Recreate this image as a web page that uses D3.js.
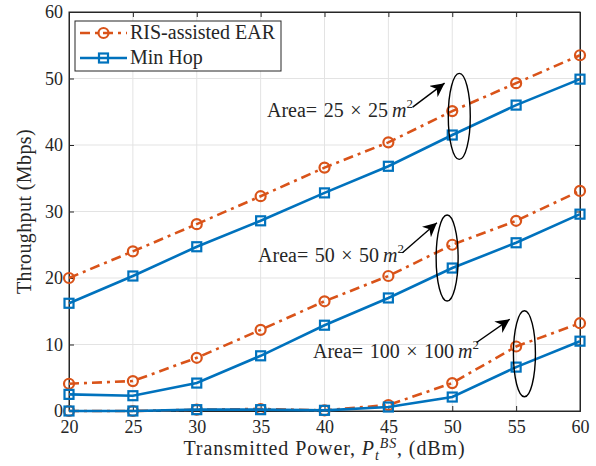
<!DOCTYPE html>
<html lang="en">
<head>
<meta charset="UTF-8">
<title>Throughput vs transmitted power</title>
<script src="https://cdn.jsdelivr.net/npm/d3@7"></script>
<style>
  body { margin: 0; background: #fff; }
  text { font-family: "Liberation Serif", "Times New Roman", serif; fill: #262626; }
</style>
</head>
<body>
<script>
// data
const power = [20, 25, 30, 35, 40, 45, 50, 55, 60];
const earArea25 = [20.0, 24.0, 28.1, 32.3, 36.6, 40.4, 45.1, 49.3, 53.5];
const minHopArea25 = [16.2, 20.3, 24.7, 28.6, 32.8, 36.8, 41.5, 46.0, 49.9];
const earArea50 = [4.1, 4.5, 8.0, 12.2, 16.5, 20.3, 25.0, 28.6, 33.1];
const minHopArea50 = [2.5, 2.3, 4.2, 8.3, 12.9, 17.0, 21.5, 25.3, 29.6];
const earArea100 = [0.0, 0.0, 0.2, 0.3, 0.1, 0.9, 4.2, 9.7, 13.2];
const minHopArea100 = [0.0, 0.0, 0.2, 0.2, 0.1, 0.6, 2.1, 6.6, 10.5];
const xTicks = [20, 25, 30, 35, 40, 45, 50, 55, 60];
const yTicks = [0, 10, 20, 30, 40, 50, 60];
const legendLabels = ['RIS-assisted EAR', 'Min Hop'];
// annotation: text anchor, arrow start/end, ellipse centre (data units)
const areaSizes = ['25', '50', '100'];
const textPos = [[35.5, 44.2], [34.8, 22.4], [39.1, 8.0]];
const arrowFrom = [[46.9, 45.7], [46.1, 23.8], [51.9, 10.3]];
const arrowTo = [[49.4, 49.3], [48.8, 28.3], [54.5, 13.8]];
const ellipseAt = [[50.55, 44.3], [49.6, 23.0], [55.65, 8.6]];

const width = 596, height = 466;
const margin = {top: 12, right: 16, bottom: 55, left: 69};
const orange = '#D95319', blue = '#0072BD';

const svg = d3.select('body').append('svg')
  .attr('width', width).attr('height', height);

const x = d3.scaleLinear().domain([20, 60]).range([margin.left, width - margin.right]);
const y = d3.scaleLinear().domain([0, 60]).range([height - margin.bottom, margin.top]);

// grid
svg.append('g').selectAll('line').data(xTicks.slice(1, -1)).join('line')
  .attr('x1', d => x(d)).attr('x2', d => x(d))
  .attr('y1', y(0)).attr('y2', y(60))
  .attr('stroke', '#e3e3e3').attr('stroke-width', 1);
svg.append('g').selectAll('line').data(yTicks.slice(1, -1)).join('line')
  .attr('x1', x(20)).attr('x2', x(60))
  .attr('y1', d => y(d)).attr('y2', d => y(d))
  .attr('stroke', '#e3e3e3').attr('stroke-width', 1);

// box
svg.append('rect')
  .attr('x', x(20)).attr('y', y(60))
  .attr('width', x(60) - x(20)).attr('height', y(0) - y(60))
  .attr('fill', 'none').attr('stroke', '#262626').attr('stroke-width', 1);

// axes with inward ticks
const xAxis = svg.append('g')
  .attr('transform', `translate(0,${y(0)})`)
  .call(d3.axisBottom(x).tickValues(xTicks).tickSize(-5).tickPadding(9));
const xTop = svg.append('g')
  .attr('transform', `translate(0,${y(60)})`)
  .call(d3.axisTop(x).tickValues(xTicks).tickSize(-5).tickFormat(''));
const yAxis = svg.append('g')
  .attr('transform', `translate(${x(20)},0)`)
  .call(d3.axisLeft(y).tickValues(yTicks).tickSize(-5).tickPadding(6));
const yRight = svg.append('g')
  .attr('transform', `translate(${x(60)},0)`)
  .call(d3.axisRight(y).tickValues(yTicks).tickSize(-5).tickFormat(''));
[xAxis, xTop, yAxis, yRight].forEach(g => {
  g.select('.domain').attr('stroke', '#262626');
  g.selectAll('.tick line').attr('stroke', '#262626');
  g.selectAll('.tick text')
    .attr('font-family', '"Liberation Serif", serif')
    .attr('font-size', 18).attr('fill', '#262626');
});

// series
const series = [
  {vals: earArea25, ear: true}, {vals: minHopArea25, ear: false},
  {vals: earArea50, ear: true}, {vals: minHopArea50, ear: false},
  {vals: earArea100, ear: true}, {vals: minHopArea100, ear: false}
];
const line = d3.line().x(d => x(d[0])).y(d => y(d[1]));

series.forEach(s => {
  const pts = power.map((p, i) => [p, s.vals[i]]);
  const col = s.ear ? orange : blue;
  svg.append('path').datum(pts)
    .attr('d', line).attr('fill', 'none')
    .attr('stroke', col).attr('stroke-width', 2.6)
    .attr('stroke-dasharray', s.ear ? '10,5,3,5' : null);
  if (s.ear) {
    svg.append('g').selectAll('circle').data(pts).join('circle')
      .attr('cx', d => x(d[0])).attr('cy', d => y(d[1])).attr('r', 5)
      .attr('fill', 'none').attr('stroke', col).attr('stroke-width', 2.2);
  } else {
    svg.append('g').selectAll('rect').data(pts).join('rect')
      .attr('x', d => x(d[0]) - 4.5).attr('y', d => y(d[1]) - 4.5)
      .attr('width', 9).attr('height', 9)
      .attr('fill', 'none').attr('stroke', col).attr('stroke-width', 2.2);
  }
});

// annotations
svg.append('defs').append('marker')
  .attr('id', 'arr').attr('viewBox', '0 0 10 10')
  .attr('refX', 10).attr('refY', 5)
  .attr('markerWidth', 14).attr('markerHeight', 14)
  .attr('markerUnits', 'userSpaceOnUse')
  .attr('orient', 'auto')
  .append('path').attr('d', 'M0,0 L10,5 L0,10 L3,5 Z').attr('fill', '#000');

areaSizes.forEach((a, i) => {
  const t = svg.append('text')
    .attr('x', x(textPos[i][0])).attr('y', y(textPos[i][1]))
    .attr('font-size', 20).attr('word-spacing', 1.5);
  t.append('tspan').text(`Area= ${a} \u00d7 ${a}\u2009`);
  t.append('tspan').attr('font-style', 'italic').text('m');
  t.append('tspan').attr('font-size', 13).attr('dy', -9).text('2');

  svg.append('line')
    .attr('x1', x(arrowFrom[i][0])).attr('y1', y(arrowFrom[i][1]))
    .attr('x2', x(arrowTo[i][0])).attr('y2', y(arrowTo[i][1]))
    .attr('stroke', '#000').attr('stroke-width', 1.4)
    .attr('marker-end', 'url(#arr)');

  svg.append('ellipse')
    .attr('cx', x(ellipseAt[i][0])).attr('cy', y(ellipseAt[i][1]))
    .attr('rx', 11).attr('ry', 43)
    .attr('fill', 'none').attr('stroke', '#000').attr('stroke-width', 1.4);
});

// legend
const leg = svg.append('g').attr('transform', 'translate(75,21)');
leg.append('rect').attr('width', 206).attr('height', 50)
  .attr('fill', '#fff').attr('stroke', '#262626').attr('stroke-width', 1);
legendLabels.forEach((lab, i) => {
  const cy = 12 + i * 25;
  const col = i === 0 ? orange : blue;
  leg.append('line').attr('x1', 5).attr('x2', 52).attr('y1', cy).attr('y2', cy)
    .attr('stroke', col).attr('stroke-width', 2.6)
    .attr('stroke-dasharray', i === 0 ? '10,5,3,5' : null);
  if (i === 0) {
    leg.append('circle').attr('cx', 28.5).attr('cy', cy).attr('r', 5)
      .attr('fill', 'none').attr('stroke', col).attr('stroke-width', 2.2);
  } else {
    leg.append('rect').attr('x', 24).attr('y', cy - 4.5).attr('width', 9).attr('height', 9)
      .attr('fill', 'none').attr('stroke', col).attr('stroke-width', 2.2);
  }
  leg.append('text').attr('x', 55).attr('y', cy + 6).attr('font-size', 20).text(lab);
});

// axis labels
const xl = svg.append('text')
  .attr('x', (x(20) + x(60)) / 2).attr('y', 455)
  .attr('text-anchor', 'middle').attr('font-size', 20)
  .attr('letter-spacing', 0.9);
xl.append('tspan').text('Transmitted Power, ');
xl.append('tspan').attr('font-style', 'italic').text('P');
xl.append('tspan').attr('font-style', 'italic').attr('font-size', 14).attr('dy', 5).text('t');
xl.append('tspan').attr('font-style', 'italic').attr('font-size', 14).attr('dy', -12).text('BS');
xl.append('tspan').attr('dy', 7).text(', (dBm)');

svg.append('text')
  .attr('transform', `translate(31,${(y(0) + y(60)) / 2}) rotate(-90)`)
  .attr('text-anchor', 'middle').attr('font-size', 20)
  .attr('letter-spacing', 0.4)
  .text('Throughput (Mbps)');
</script>
</body>
</html>
